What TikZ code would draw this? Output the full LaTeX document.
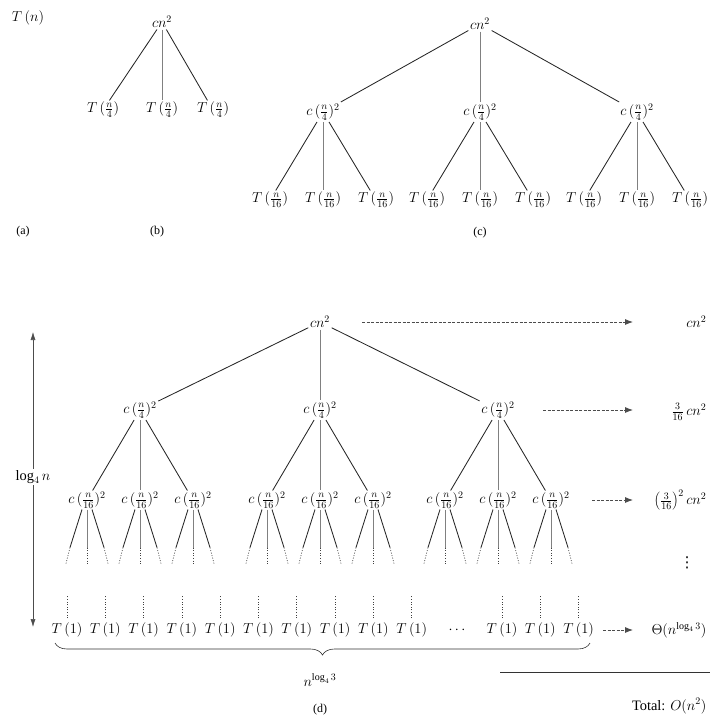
\documentclass[tikz,border=0pt]{standalone}
\usepackage{fontspec}
\setmainfont{Liberation Serif}
\newfontfamily\symfont{DejaVu Sans}
\usetikzlibrary{arrows.meta,decorations.pathreplacing}
\begin{document}
\begin{tikzpicture}[x=1pt,y=-1pt,
  every node/.style={font=\fontsize{14.4}{17}\selectfont, inner sep=1.5pt},
  edge/.style={line width=0.85pt, black!85},
  vedge/.style={line width=0.55pt, black!50},
  sumarrow/.style={line width=0.85pt, black!70, dash pattern=on 3pt off 1.5pt, -{Latex[length=8pt,width=6pt]}},
  leafdots/.style={line width=0.65pt, black!75, dash pattern=on 1pt off 1.6pt},
  heightarrow/.style={line width=0.55pt, black!70, {Latex[length=8pt,width=5pt]}-{Latex[length=8pt,width=5pt]}},
  capt/.style={font=\fontsize{12}{14}\selectfont}
]
\useasboundingbox (0,0) rectangle (710,720);

% ---------------- (a)
\node (Tn) at (28,18) {$T\,(n)$};
\node[capt] (la) at (23,232) {(a)};

% ---------------- (b)
\node (broot) at (162,22) {$cn^2$};
\node (b1) at (103,110) {$T\,(\frac{n}{4})$};
\node (b2) at (162,110) {$T\,(\frac{n}{4})$};
\node (b3) at (213,110) {$T\,(\frac{n}{4})$};
\draw[edge] (broot) -- (b1);
\draw[vedge] (broot) -- (b2);
\draw[edge] (broot) -- (b3);
\node[capt] (lb) at (157,232) {(b)};

% ---------------- (c)
\node (croot) at (480,24) {$cn^2$};
\foreach \g/\cx in {1/323,2/480,3/637} {
  \node (c\g) at (\cx,112) {$c\,(\frac{n}{4})^2$};
  \foreach \k in {1,2,3} {
    \node (cc\g\k) at (\cx+53*\k-106,200) {$T\,(\frac{n}{16})$};
  }
  \draw[edge] (c\g) -- (cc\g1);
  \draw[vedge] (c\g) -- (cc\g2);
  \draw[edge] (c\g) -- (cc\g3);
}
\draw[edge] (croot) -- (c1);
\draw[vedge] (croot) -- (c2);
\draw[edge] (croot) -- (c3);
\node[capt] (lc) at (480,233) {(c)};

% ---------------- (d)
\node (droot) at (320,322) {$cn^2$};
\foreach \g/\cx in {1/140,2/320,3/498} {
  \node (d\g) at (\cx,410) {$c\,(\frac{n}{4})^2$};
  \foreach \k in {1,2,3} {
    \node[inner sep=1pt] (dd\g\k) at (\cx+53*\k-106,500) {$c\,(\frac{n}{16})^2$};
    \path ([xshift=-5pt]dd\g\k.south) coordinate (ls) ++(-12,38) coordinate (lm) ++(-4,16) coordinate (le);
    \draw[edge] (ls) -- (lm);
    \draw[leafdots] (lm) -- (le);
    \path (dd\g\k.south) coordinate (ms) ++(0,38) coordinate (mm) ++(0,16) coordinate (me);
    \draw[vedge] (ms) -- (mm);
    \draw[leafdots] (mm) -- (me);
    \path ([xshift=5pt]dd\g\k.south) coordinate (rs) ++(12,38) coordinate (rm) ++(4,16) coordinate (re);
    \draw[edge] (rs) -- (rm);
    \draw[leafdots] (rm) -- (re);
  }
  \draw[edge] (d\g) -- (dd\g1);
  \draw[vedge] (d\g) -- (dd\g2);
  \draw[edge] (d\g) -- (dd\g3);
}
\draw[edge] (droot) -- (d1);
\draw[vedge] (droot) -- (d2);
\draw[edge] (droot) -- (d3);

% leaves
\foreach \i in {1,...,10} {
  \node (t\i) at (67+38.3*\i-38.3,630) {$T\,(1)$};
}
\foreach \i in {11,12,13} {
  \node (t\i) at (502+38.3*\i-421.3,630) {$T\,(1)$};
}
\node (tdots) at (457,630) {$\cdots$};
\foreach \i in {1,...,13} {
  \draw[leafdots] ([yshift=3pt]t\i.north) -- ++(0,-22);
}

% right column
\node[anchor=east] (r1) at (708,322) {$cn^2$};
\node[anchor=east] (r2) at (708,412) {$\frac{3}{16}\,cn^2$};
\node[anchor=east] (r3) at (708,500) {$\left(\frac{3}{16}\right)^2 cn^2$};
\node (r4) at (687,563) {\symfont\fontsize{15}{17}\selectfont ⋮};
\node[anchor=east] (r5) at (708,630) {$\Theta(n^{\log_4 3})$};
\coordinate (a1s) at (362,322); \coordinate (a1e) at (633,322);
\coordinate (a2s) at (543,410); \coordinate (a2e) at (633,410);
\coordinate (a3s) at (592,500); \coordinate (a3e) at (633,500);
\coordinate (a5s) at (603,630); \coordinate (a5e) at (633,630);
\draw[sumarrow] (a1s) -- (a1e);
\draw[sumarrow] (a2s) -- (a2e);
\draw[sumarrow] (a3s) -- (a3e);
\draw[sumarrow] (a5s) -- (a5e);

% height arrow
\coordinate (vtop) at (33,332);
\coordinate (vbot) at (33,627);
\draw[heightarrow] (vtop) -- (vbot);
\node[fill=white] (hlab) at (33,477) {$\log_4 n$};

% brace and width
\coordinate (brR) at (590,643);
\coordinate (brL) at (55,643);
\draw[line width=0.6pt, black!80, decorate, decoration={brace, amplitude=12pt}] (brR) -- (brL);
\node (wlab) at (320,680) {$n^{\log_4 3}$};

% total
\coordinate (tl1) at (500,672);
\coordinate (tl2) at (710,672);
\draw[line width=0.7pt, black!80] (tl1) -- (tl2);
\node[anchor=east] (total) at (708,706) {Total: $O(n^2)$};
\node[capt] (ld) at (320,710) {(d)};
\end{tikzpicture}
\end{document}
